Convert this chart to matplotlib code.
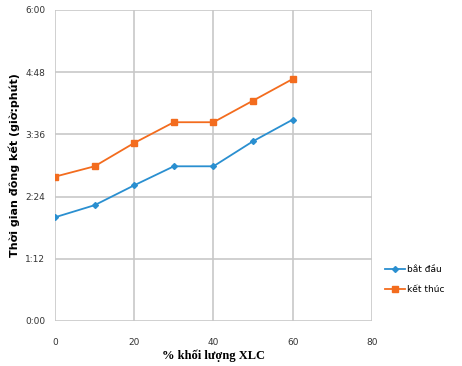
import matplotlib
matplotlib.use("Agg")
import matplotlib.pyplot as plt
from matplotlib.ticker import FuncFormatter, MultipleLocator

# ── Data (minutes) ─────────────────────────────────────────
xlc = [0, 10, 20, 30, 40, 50, 60]
bat_dau = [120, 134, 157, 179, 179, 208, 233]
ket_thuc = [167, 179, 206, 230, 230, 255, 280]

x_ticks = [0, 20, 40, 60, 80]

def hm(v, pos=None):
    v = int(round(v))
    return f"{v // 60}:{v % 60:02d}"

fig = plt.figure(figsize=(4.62, 3.66), dpi=100)
ax = fig.add_axes([0.119, 0.123, 0.686, 0.850])

ax.plot(xlc, bat_dau, color="#2a8fd0", marker="D", markersize=3, lw=1.3, label="bắt đầu")
ax.plot(xlc, ket_thuc, color="#f36c1e", marker="s", markersize=4, lw=1.3, label="kết thúc")

ax.set_xlim(0, 80)
ax.set_ylim(0, 360)
ax.set_xticks(x_ticks)
ax.yaxis.set_major_locator(MultipleLocator(72))
ax.yaxis.set_major_formatter(FuncFormatter(hm))
ax.tick_params(labelsize=6.5, length=0, colors="#333333")
ax.tick_params(axis="x", pad=12)
ax.tick_params(axis="y", pad=7)
ax.grid(True, color="#c8c8c8", lw=1.2)
ax.set_axisbelow(True)
for s in ax.spines.values():
    s.set_visible(False)

ax.set_xlabel("% khối lượng XLC", fontsize=9, fontweight="bold",
              family="Liberation Serif", labelpad=2)
ax.set_ylabel("Thời gian đông kết (giờ:phút)", fontsize=8, fontweight="bold", labelpad=4)

fig.legend(loc="center left", bbox_to_anchor=(0.815, 0.237), frameon=False,
           fontsize=6.5, handlelength=2.2, labelspacing=1.2, handletextpad=0.3)

fig.savefig("out.png", dpi=100)
